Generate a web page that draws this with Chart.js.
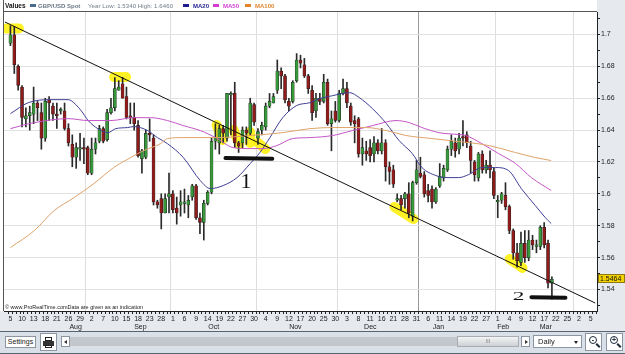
<!DOCTYPE html>
<html>
<head>
<meta charset="utf-8">
<script src="https://cdn.jsdelivr.net/npm/chart.js@4.4.1/dist/chart.umd.min.js"></script>
<style>
  html, body { margin: 0; padding: 0; background: #fff; }
  #wrap { position: relative; width: 625px; height: 354px; overflow: hidden; font-family: "Liberation Sans", Arial, sans-serif; }
  #c { position: absolute; left: 0; top: 0; }
  #hdr { position: absolute; left: 0; top: 0; height: 11px; width: 597px; }
  #hdr span { position: absolute; top: 2px; font-size: 6px; font-weight: bold; line-height: 8px; white-space: nowrap; }
  #hdr .sw { top: 4px; width: 6px; height: 3px; }
  #copy { position: absolute; left: 5px; top: 304px; font-size: 5.5px; color: #222; white-space: nowrap; }
  #bar { position: absolute; left: 0; top: 331px; width: 625px; height: 21px; background: #d9e0e8; border-top: 1px solid #5a6470; border-bottom: 1px solid #5a6470; }
  #bar div { position: absolute; box-sizing: border-box; }
  .btn { background: #fff; border: 1px solid #8b96a2; font-size: 7px; color: #222; text-align: center; }
  .tri { width: 0; height: 0; border-top: 2.5px solid transparent; border-bottom: 2.5px solid transparent; }
  .lens { width: 8px; height: 8px; border: 1.4px solid #1d2a3a; border-radius: 50%; left: 3px; top: 2px; font-size: 7px; line-height: 5px; text-align: center; font-weight: bold; color: #1d2a3a; }
  .handle { width: 2px; height: 5px; background: #1d2a3a; left: 11px; top: 9px; transform: rotate(-45deg); }
</style>
</head>
<body>
<div id="wrap">
  <canvas id="c" width="625" height="331"></canvas>
  <div id="hdr">
    <span style="left:5px;color:#111;font-size:6.5px">Values</span>
    <span class="sw" style="left:30px;background:#4a6a8e"></span>
    <span style="left:38px;color:#6b7886">GBP/USD Spot</span>
    <span style="left:88px;color:#6b7886;font-weight:normal;letter-spacing:0.1px">Year Low: 1.5340 High: 1.6460</span>
    <span class="sw" style="left:183px;background:#1c1c8c"></span>
    <span style="left:193px;color:#1c1c8c">MA20</span>
    <span class="sw" style="left:213px;background:#d23cd2"></span>
    <span style="left:223px;color:#d23cd2">MA50</span>
    <span class="sw" style="left:245px;background:#e2842e"></span>
    <span style="left:255px;color:#e2842e">MA100</span>
  </div>
  <div id="copy">© www.ProRealTime.comData are given as an indication</div>
  <div id="bar">
    <div class="btn" style="left:5px;top:4px;width:31px;height:12px;line-height:10px">Settings</div>
    <div class="btn" style="left:40px;top:1px;width:17px;height:18px">
      <div style="left:4px;top:3px;width:7px;height:4px;background:#fff;border:1px solid #222"></div>
      <div style="left:2px;top:7px;width:11px;height:5px;background:#333"></div>
      <div style="left:4px;top:11px;width:7px;height:3px;background:#fff;border:1px solid #222"></div>
    </div>
    <div class="btn" style="left:61px;top:4px;width:9px;height:11px">
      <div class="tri" style="left:2px;top:3px;border-right:3px solid #333"></div>
    </div>
    <div style="left:70px;top:5px;width:387px;height:9px;background:#c3c7cc"></div>
    <div style="left:457px;top:4px;width:62px;height:11px;background:linear-gradient(#f4f4f4,#cdd1d5);border:1px solid #a7adb3;font-size:5px;line-height:9px;text-align:center;color:#777">III</div>
    <div class="btn" style="left:521px;top:4px;width:9px;height:11px">
      <div class="tri" style="left:3px;top:3px;border-left:3px solid #333"></div>
    </div>
    <div class="btn" style="left:533px;top:3px;width:49px;height:13px;text-align:left;padding-left:4px;line-height:11px;font-size:7.5px">Daily
      <div class="tri" style="left:40px;top:5px;border:none;border-left:2.5px solid transparent;border-right:2.5px solid transparent;border-top:3px solid #222"></div>
    </div>
    <div class="btn" style="left:585px;top:1px;width:17px;height:18px">
      <div class="lens">-</div><div class="handle"></div>
    </div>
    <div class="btn" style="left:606px;top:1px;width:17px;height:18px">
      <div class="lens">+</div><div class="handle"></div>
    </div>
  </div>
</div>
<script>
// GBP/USD daily candles, Aug 5 -> Feb 19 (one per slot)
const opens = [
  1.6945, 1.6997, 1.6800, 1.6670, 1.6470, 1.6490, 1.6500, 1.6570, 1.6510, 1.6350,
  1.6590, 1.6550, 1.6500, 1.6520, 1.6520, 1.6410, 1.6310, 1.6230, 1.6280, 1.6290,
  1.6290, 1.6130, 1.6280, 1.6330, 1.6410, 1.6340, 1.6510, 1.6540, 1.6650, 1.6690,
  1.6610, 1.6490, 1.6480, 1.6430, 1.6220, 1.6230, 1.6380, 1.6350, 1.5950, 1.5970,
  1.5880, 1.5980, 1.6000, 1.5910, 1.5930, 1.5940, 1.5930, 1.5980, 1.6050, 1.5850,
  1.5820, 1.5940, 1.6010, 1.6330, 1.6320, 1.6410, 1.6350, 1.6620, 1.6630, 1.6320,
  1.6320, 1.6400, 1.6380, 1.6560, 1.6350, 1.6400, 1.6420, 1.6550, 1.6570, 1.6650,
  1.6770, 1.6740, 1.6580, 1.6580, 1.6710, 1.6840, 1.6810, 1.6740, 1.6650, 1.6520,
  1.6600, 1.6580, 1.6700, 1.6440, 1.6520, 1.6460, 1.6630, 1.6660, 1.6550, 1.6460,
  1.6470, 1.6250, 1.6270, 1.6290, 1.6250, 1.6320, 1.6270, 1.6320, 1.6170, 1.6150,
  1.5960, 1.5970, 1.5970, 1.6000, 1.5860, 1.6070, 1.6130, 1.6120, 1.6020, 1.6030,
  1.5950, 1.6050, 1.6100, 1.6150, 1.6280, 1.6320, 1.6280, 1.6360, 1.6370, 1.6300,
  1.6200, 1.6100, 1.6250, 1.6150, 1.6180, 1.6140, 1.5950, 1.5960, 1.5990, 1.5920,
  1.5770, 1.5630, 1.5570, 1.5690, 1.5600, 1.5710, 1.5670, 1.5670, 1.5790, 1.5690,
  1.5440
];
const highs = [
  1.7055, 1.7050, 1.6810, 1.6680, 1.6540, 1.6550, 1.6670, 1.6580, 1.6570, 1.6600,
  1.6610, 1.6570, 1.6570, 1.6540, 1.6570, 1.6440, 1.6370, 1.6320, 1.6380, 1.6350,
  1.6300, 1.6350, 1.6350, 1.6430, 1.6420, 1.6530, 1.6600, 1.6730, 1.6710, 1.6730,
  1.6670, 1.6570, 1.6570, 1.6460, 1.6280, 1.6400, 1.6470, 1.6370, 1.5960, 1.6000,
  1.6000, 1.6130, 1.6020, 1.5980, 1.6020, 1.6030, 1.5990, 1.6060, 1.6060, 1.5880,
  1.5960, 1.6020, 1.6350, 1.6440, 1.6430, 1.6430, 1.6630, 1.6640, 1.6700, 1.6330,
  1.6420, 1.6420, 1.6600, 1.6570, 1.6410, 1.6450, 1.6570, 1.6630, 1.6630, 1.6840,
  1.6790, 1.6750, 1.6600, 1.6710, 1.6880, 1.6870, 1.6850, 1.6750, 1.6680, 1.6630,
  1.6630, 1.6750, 1.6720, 1.6520, 1.6580, 1.6650, 1.6720, 1.6700, 1.6570, 1.6490,
  1.6480, 1.6350, 1.6330, 1.6340, 1.6360, 1.6340, 1.6410, 1.6340, 1.6200, 1.6180,
  1.6000, 1.5990, 1.6010, 1.6070, 1.6080, 1.6210, 1.6230, 1.6140, 1.6060, 1.6050,
  1.6040, 1.6190, 1.6180, 1.6300, 1.6370, 1.6350, 1.6380, 1.6460, 1.6390, 1.6330,
  1.6210, 1.6260, 1.6270, 1.6210, 1.6270, 1.6160, 1.5990, 1.6010, 1.6070, 1.5930,
  1.5780, 1.5690, 1.5760, 1.5770, 1.5770, 1.5740, 1.5710, 1.5800, 1.5820, 1.5710,
  1.5480
];
const lows = [
  1.6930, 1.6755, 1.6650, 1.6420, 1.6420, 1.6400, 1.6440, 1.6460, 1.6280, 1.6330,
  1.6460, 1.6460, 1.6410, 1.6500, 1.6400, 1.6300, 1.6170, 1.6160, 1.6210, 1.6190,
  1.6120, 1.6120, 1.6250, 1.6320, 1.6320, 1.6330, 1.6500, 1.6520, 1.6650, 1.6600,
  1.6470, 1.6440, 1.6400, 1.6230, 1.6130, 1.6220, 1.6330, 1.5930, 1.5910, 1.5780,
  1.5880, 1.5880, 1.5880, 1.5810, 1.5860, 1.5880, 1.5850, 1.5960, 1.5840, 1.5750,
  1.5710, 1.5930, 1.6000, 1.6280, 1.6250, 1.6320, 1.6330, 1.6370, 1.6290, 1.6260,
  1.6290, 1.6310, 1.6370, 1.6430, 1.6310, 1.6370, 1.6400, 1.6540, 1.6570, 1.6630,
  1.6660, 1.6570, 1.6520, 1.6570, 1.6700, 1.6790, 1.6730, 1.6630, 1.6460, 1.6480,
  1.6560, 1.6570, 1.6430, 1.6270, 1.6450, 1.6450, 1.6620, 1.6540, 1.6430, 1.6320,
  1.6230, 1.6180, 1.6210, 1.6200, 1.6200, 1.6250, 1.6250, 1.6080, 1.6060, 1.6040,
  1.5950, 1.5900, 1.5910, 1.5850, 1.5830, 1.6060, 1.6100, 1.5980, 1.5950, 1.5910,
  1.5940, 1.6040, 1.6080, 1.6140, 1.6240, 1.6230, 1.6250, 1.6300, 1.6290, 1.6130,
  1.6080, 1.6080, 1.6130, 1.6130, 1.6100, 1.5970, 1.5850, 1.5940, 1.5900, 1.5750,
  1.5590, 1.5540, 1.5550, 1.5570, 1.5580, 1.5650, 1.5630, 1.5650, 1.5660, 1.5410,
  1.5340
];
const closes = [
  1.6997, 1.6810, 1.6680, 1.6480, 1.6490, 1.6510, 1.6570, 1.6540, 1.6350, 1.6580,
  1.6570, 1.6500, 1.6490, 1.6530, 1.6410, 1.6320, 1.6230, 1.6290, 1.6290, 1.6280,
  1.6130, 1.6280, 1.6320, 1.6410, 1.6330, 1.6510, 1.6540, 1.6660, 1.6670, 1.6600,
  1.6480, 1.6480, 1.6440, 1.6240, 1.6270, 1.6380, 1.6370, 1.5950, 1.5930, 1.5880,
  1.5970, 1.6000, 1.5900, 1.5880, 1.5950, 1.5950, 1.5960, 1.6050, 1.5850, 1.5820,
  1.5940, 1.6010, 1.6330, 1.6350, 1.6410, 1.6380, 1.6630, 1.6630, 1.6320, 1.6300,
  1.6400, 1.6380, 1.6570, 1.6450, 1.6390, 1.6430, 1.6550, 1.6580, 1.6610, 1.6770,
  1.6740, 1.6590, 1.6550, 1.6700, 1.6840, 1.6820, 1.6740, 1.6660, 1.6510, 1.6600,
  1.6580, 1.6700, 1.6440, 1.6470, 1.6460, 1.6630, 1.6660, 1.6570, 1.6450, 1.6440,
  1.6250, 1.6290, 1.6250, 1.6240, 1.6320, 1.6270, 1.6320, 1.6170, 1.6140, 1.6060,
  1.5970, 1.5930, 1.6000, 1.5880, 1.6070, 1.6150, 1.6110, 1.6000, 1.5990, 1.5950,
  1.6030, 1.6110, 1.6160, 1.6280, 1.6330, 1.6270, 1.6350, 1.6350, 1.6320, 1.6210,
  1.6120, 1.6250, 1.6150, 1.6180, 1.6150, 1.5990, 1.5960, 1.6000, 1.5920, 1.5770,
  1.5630, 1.5580, 1.5690, 1.5600, 1.5710, 1.5680, 1.5680, 1.5790, 1.5680, 1.5440,
  1.5464
];

// moving averages: [slot, price]
const ma20 = [[0,1.6503],[4.6,1.6572],[10.5,1.6591],[14.9,1.6591],[15.7,1.6585],[18.3,1.6522],
  [20.1,1.6460],[22.6,1.6409],[25.2,1.6384],[27.2,1.6409],[30.3,1.6416],[31.9,1.6422],[35.5,1.6397],
  [38,1.6353],[40.6,1.6315],[44.7,1.6228],[49.1,1.6083],[51.7,1.6033],[55,1.6052],[58.6,1.6102],
  [62,1.6190],[64.5,1.6259],[67.1,1.6353],[70.4,1.6478],[74,1.6554],[77.4,1.6572],[79.9,1.6597],
  [83.3,1.6616],[87.7,1.6635],[90.2,1.6604],[93.6,1.6535],[97.2,1.6441],[100.5,1.6334],[103.9,1.6253],
  [106.4,1.6165],[110,1.6115],[112.6,1.6102],[115.9,1.6102],[118.5,1.6121],[121.9,1.6165],
  [125.4,1.6165],[128.8,1.6146],[132.1,1.6033],[135.7,1.5927],[138.3,1.5851],[139.8,1.5814]];
const ma50 = [[0,1.6409],[2.8,1.6428],[6.2,1.6447],[14.9,1.6472],[20.1,1.6460],[26,1.6460],
  [31.9,1.6478],[36.2,1.6478],[40.6,1.6460],[44.7,1.6428],[49.1,1.6397],[53.5,1.6347],[57.6,1.6290],
  [62,1.6284],[65.3,1.6284],[68.9,1.6303],[73,1.6347],[77.4,1.6353],[83.3,1.6366],[88.4,1.6397],
  [93.6,1.6428],[99.7,1.6460],[103.1,1.6447],[106.4,1.6416],[110.8,1.6384],[115.9,1.6372],
  [117.7,1.6366],[121.9,1.6315],[126.2,1.6253],[130.6,1.6190],[134.7,1.6102],[139.8,1.6021]];
const ma100 = [[0,1.5663],[6.2,1.5770],[11.3,1.5895],[16.5,1.5977],[21.6,1.6065],[26.7,1.6165],
  [31.1,1.6228],[34.4,1.6271],[38.8,1.6315],[40.6,1.6347],[44.7,1.6353],[53.5,1.6353],[62,1.6366],
  [70.4,1.6384],[77.4,1.6409],[83.3,1.6416],[92,1.6416],[97.2,1.6397],[102.3,1.6366],[109,1.6347],
  [115.9,1.6328],[118.5,1.6322],[123.7,1.6303],[130.6,1.6259],[135.7,1.6228],[139.8,1.6209]];

// hand-drawn trend line, highlighter marks and underlines: [slot, price] pairs
const trendLine = [[-1.41,1.7078],[151.2,1.5315]];
const highlights = [
  [[-1.1,1.7037],[2.2,1.7037]],
  [[26.8,1.6733],[29.9,1.6733]],
  [[53.3,1.6432],[54.8,1.6338]],
  [[57.7,1.6401],[59.2,1.6313]],
  [[62.0,1.6388],[62.0,1.6319]],
  [[64.1,1.6319],[65.9,1.6281]],
  [[99.3,1.5918],[104.2,1.5842]],
  [[129.1,1.5591],[132.4,1.5535]]
];
const underlines = [
  [[55.6,1.6225],[67.7,1.6220]],
  [[134.7,1.5352],[143.5,1.5348]]
];
const noteText = ['1', '2'];
const noteSlot = [60.9, 131.4];
const notePrice = [1.6071, 1.5356];

// axis labels
const dayLabels = ['5','10','13','18','21','26','29','2','7','10','15','18','23','28',
  '1','6','9','14','19','22','27','30','4','9','12','17','20','25','30',
  '3','8','11','16','21','28','31','6','11','14','19','22','27',
  '1','4','9','12','17','22','25','2','5'];
const monthNames = ['Aug','Sep','Oct','Nov','Dec','Jan','Feb','Mar'];
const monthPos = [9, 28, 49.5, 73.5, 95.5, 115.5, 134.5, 147];
const monthStarts = [20, 42, 64, 85, 106, 126, 146];
const yearStart = 106;
const priceTicks = [1.53,1.54,1.55,1.56,1.57,1.58,1.59,1.60,1.61,1.62,1.63,1.64,1.65,1.66,1.67,1.68,1.69,1.70,1.71];

Chart.defaults.font.family = '"Liberation Sans", Arial, sans-serif';
Chart.defaults.font.size = 7;
Chart.defaults.color = '#222';

const xMin = -1.156, xMax = 151.156;
const yMin = 1.5265, yMax = 1.7141;
const isMajor = v => Math.round(v * 100) % 2 === 0;
const pts = arr => arr.map(p => ({ x: p[0], y: p[1] }));

const datasets = [
  {
    type: 'bar',
    data: opens.map((o, i) => ({ x: i, y: [lows[i], highs[i]] })),
    backgroundColor: '#2a2a2a',
    barThickness: 1,
    grouped: false,
    order: 3
  },
  {
    type: 'bar',
    data: opens.map((o, i) => ({ x: i, y: [o, closes[i]] })),
    backgroundColor: ctx => closes[ctx.dataIndex] >= opens[ctx.dataIndex] ? '#37983a' : '#8f1b1b',
    borderColor: '#1e1e1e',
    borderWidth: 0.5,
    borderSkipped: false,
    barThickness: 3,
    minBarLength: 1,
    grouped: false,
    order: 2
  },
  { type: 'line', data: pts(ma100), borderColor: '#dfa36a', borderWidth: 1, pointRadius: 0, cubicInterpolationMode: 'monotone', order: 1 },
  { type: 'line', data: pts(ma50), borderColor: '#c556c8', borderWidth: 1, pointRadius: 0, cubicInterpolationMode: 'monotone', order: 1 },
  { type: 'line', data: pts(ma20), borderColor: '#3f3f95', borderWidth: 1, pointRadius: 0, cubicInterpolationMode: 'monotone', order: 1 },
  { type: 'line', data: pts(trendLine), borderColor: '#111', borderWidth: 1, pointRadius: 0, order: 0 }
];
highlights.forEach(h => datasets.push({
  type: 'line', data: pts(h), borderColor: 'rgba(255,240,0,0.85)', borderWidth: 10,
  borderCapStyle: 'round', pointRadius: 0, order: 5
}));
underlines.forEach(u => datasets.push({
  type: 'line', data: pts(u), borderColor: '#111', borderWidth: 4,
  borderCapStyle: 'round', pointRadius: 0, order: 0
}));

const chrome = {
  id: 'chrome',
  beforeDraw(chart) {
    const { ctx, chartArea: a } = chart;
    ctx.save();
    ctx.fillStyle = '#e6eaee';
    ctx.fillRect(0, 0, chart.width, chart.height);
    ctx.fillStyle = '#fff';
    ctx.fillRect(0, 0, a.right, a.bottom);
    ctx.restore();
  },
  afterDatasetsDraw(chart) {
    const { ctx, scales: { x, y } } = chart;
    ctx.save();
    ctx.fillStyle = '#111';
    ctx.textAlign = 'center';
    ctx.textBaseline = 'middle';
    noteText.forEach((t, i) => {
      const px = x.getPixelForValue(noteSlot[i]);
      const py = y.getPixelForValue(notePrice[i]);
      ctx.save();
      ctx.translate(px, py);
      if (i === 0) {
        ctx.font = '22px "Liberation Serif", serif';
      } else {
        ctx.scale(1.8, 1);
        ctx.font = '13px "Liberation Serif", serif';
      }
      ctx.fillText(t, 0, 0);
      ctx.restore();
    });
    ctx.restore();
  },
  afterDraw(chart) {
    const { ctx, chartArea: a, scales: { y } } = chart;
    ctx.save();
    ctx.strokeStyle = '#555';
    ctx.lineWidth = 1;
    ctx.beginPath();
    ctx.moveTo(3.5, 0); ctx.lineTo(3.5, a.bottom);
    ctx.moveTo(3, 11.5); ctx.lineTo(a.right, 11.5);
    ctx.stroke();
    // last price tag on the axis
    const last = closes[closes.length - 1];
    const py = Math.round(y.getPixelForValue(last));
    ctx.fillStyle = '#f3d200';
    ctx.fillRect(a.right + 1, py - 5, 27, 9);
    ctx.strokeStyle = '#8c7a10';
    ctx.strokeRect(a.right + 1.5, py - 4.5, 26, 8);
    ctx.fillStyle = '#111';
    ctx.font = '7px "Liberation Sans", Arial, sans-serif';
    ctx.textBaseline = 'middle';
    ctx.textAlign = 'left';
    ctx.fillText(last.toFixed(4), a.right + 3, py);
    ctx.restore();
  }
};

new Chart(document.getElementById('c'), {
  type: 'bar',
  data: { datasets: datasets },
  plugins: [chrome],
  options: {
    responsive: false,
    animation: false,
    layout: { padding: { top: 12, left: 4, right: 0, bottom: 0 } },
    plugins: { legend: { display: false }, tooltip: { enabled: false } },
    scales: {
      x: {
        type: 'linear', position: 'bottom', weight: 0, min: xMin, max: xMax,
        afterBuildTicks: s => { s.ticks = []; for (let v = 0; v <= 151; v++) s.ticks.push({ value: v }); },
        afterFit: s => { s.height = 12; },
        grid: {
          color: c => (c.tick && monthStarts.includes(c.tick.value)) ? (c.tick.value === yearStart ? '#9a9a9a' : '#dedede') : 'rgba(0,0,0,0)',
          tickColor: '#222', tickLength: 3
        },
        border: { color: '#222' },
        ticks: {
          autoSkip: false, maxRotation: 0, padding: 1, color: '#222',
          callback: v => (v % 3 === 0 && dayLabels[v / 3] !== undefined) ? dayLabels[v / 3] : ''
        }
      },
      months: {
        type: 'linear', position: 'bottom', weight: 1, min: xMin, max: xMax,
        afterBuildTicks: s => { s.ticks = monthPos.map(v => ({ value: v })); },
        afterFit: s => { s.height = 8; },
        grid: { display: false, drawTicks: false, tickLength: 0 },
        border: { display: false },
        ticks: { autoSkip: false, maxRotation: 0, padding: 0, color: '#222', callback: (v, i) => monthNames[i] }
      },
      y: {
        type: 'linear', position: 'right', min: yMin, max: yMax,
        afterBuildTicks: s => { s.ticks = priceTicks.map(v => ({ value: v })); },
        afterFit: s => { s.width = 28; },
        grid: {
          color: c => (c.tick && isMajor(c.tick.value)) ? '#e2e2e2' : 'rgba(0,0,0,0)',
          tickColor: '#222', tickLength: 3
        },
        border: { color: '#222' },
        ticks: { padding: 1, color: '#222', callback: v => isMajor(v) ? String(+v.toFixed(2)) : '' }
      }
    }
  }
});
</script>
</body>
</html>
